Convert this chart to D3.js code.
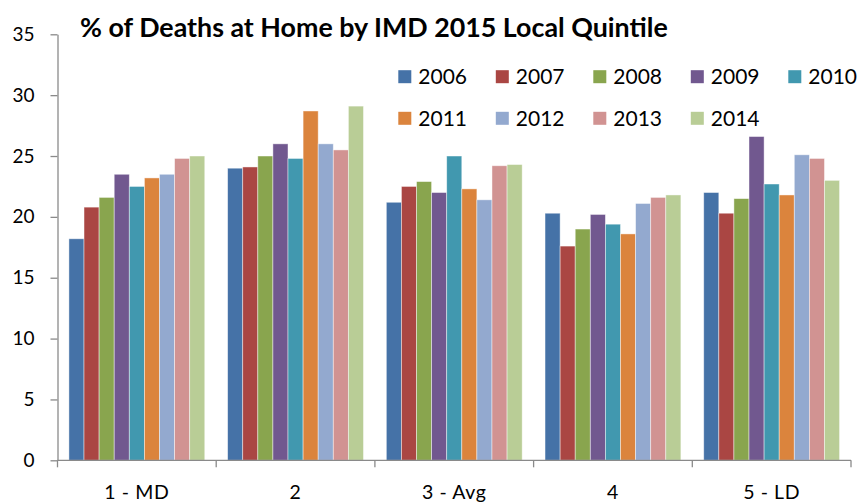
<!DOCTYPE html>
<html>
<head>
<meta charset="utf-8">
<script src="https://cdn.jsdelivr.net/npm/d3@7"></script>
<style>
  html, body { margin: 0; padding: 0; background: #fff; }
  svg { display: block; font-family: Lato, "Open Sans", sans-serif; }
</style>
</head>
<body>
<svg id="chart" width="859" height="502"></svg>
<script>
// Quintiles of the IMD 2015 local ranking
const categories = ["1 - MD", "2", "3 - Avg", "4", "5 - LD"];
const years = ["2006", "2007", "2008", "2009", "2010", "2011", "2012", "2013", "2014"];

// % of deaths at home, one array per year, in quintile order
const v2006 = [18.2, 24.0, 21.2, 20.3, 22.0];
const v2007 = [20.8, 24.1, 22.5, 17.6, 20.3];
const v2008 = [21.6, 25.0, 22.9, 19.0, 21.5];
const v2009 = [23.5, 26.0, 22.0, 20.2, 26.6];
const v2010 = [22.5, 24.8, 25.0, 19.4, 22.7];
const v2011 = [23.2, 28.7, 22.3, 18.6, 21.8];
const v2012 = [23.5, 26.0, 21.4, 21.1, 25.1];
const v2013 = [24.8, 25.5, 24.2, 21.6, 24.8];
const v2014 = [25.0, 29.1, 24.3, 21.8, 23.0];

const yTicks = [0, 5, 10, 15, 20, 25, 30, 35];
const colors = ["#4572A7", "#AA4643", "#89A54E", "#71588F", "#4198AF",
                "#DB843D", "#93A9CF", "#D19392", "#B9CD96"];

const seriesValues = [v2006, v2007, v2008, v2009, v2010, v2011, v2012, v2013, v2014];
const rows = categories.map((c, i) => ({
  category: c,
  values: years.map((yr, j) => ({ year: yr, value: seriesValues[j][i] }))
}));

const svg = d3.select("#chart");
const plot = { left: 57.5, right: 851, top: 34.3, bottom: 460.3 };

const x0 = d3.scaleBand().domain(categories).range([plot.left, plot.right]).padding(0);
const step = x0.bandwidth();
const x1 = d3.scaleBand().domain(years)
  .range([step * 0.072, step * 0.928]).padding(0);
const y = d3.scaleLinear().domain([0, 35]).range([plot.bottom, plot.top]);
const color = d3.scaleOrdinal().domain(years).range(colors);

// Bars
const groups = svg.append("g").selectAll("g").data(rows).join("g")
  .attr("transform", d => `translate(${x0(d.category)},0)`);
groups.selectAll("rect").data(d => d.values).join("rect")
  .attr("x", d => x1(d.year))
  .attr("y", d => y(d.value))
  .attr("width", x1.bandwidth())
  .attr("height", d => y(0) - y(d.value))
  .attr("fill", d => color(d.year))
  .attr("stroke", "rgba(255,255,255,0.55)")
  .attr("stroke-width", 0.8);

// Y axis
const axisColor = "#8a8a8a";
const yAxis = svg.append("g")
  .attr("transform", `translate(${plot.left},0)`)
  .call(d3.axisLeft(y).tickValues(yTicks).tickSize(7).tickPadding(16).tickSizeOuter(0));
yAxis.select(".domain").attr("stroke", axisColor).attr("stroke-width", 1.3);
yAxis.selectAll(".tick line").attr("stroke", axisColor).attr("stroke-width", 1.3);
yAxis.selectAll(".tick text")
  .attr("fill", "#000").attr("font-size", 19).attr("font-family", "Lato, sans-serif");

// X axis: baseline with ticks at the quintile boundaries
const xAxis = svg.append("g");
xAxis.append("line")
  .attr("x1", plot.left).attr("x2", plot.right)
  .attr("y1", y(0)).attr("y2", y(0))
  .attr("stroke", axisColor).attr("stroke-width", 1.3);
const boundaries = categories.map(c => x0(c)).concat([x0.range()[1]]);
xAxis.selectAll("line.bound").data(boundaries).join("line")
  .attr("class", "bound")
  .attr("x1", d => d).attr("x2", d => d)
  .attr("y1", y(0)).attr("y2", y(0) + 7)
  .attr("stroke", axisColor).attr("stroke-width", 1.3);
xAxis.selectAll("text").data(categories).join("text")
  .attr("x", d => x0(d) + step / 2)
  .attr("y", 498.5)
  .attr("text-anchor", "middle")
  .attr("font-size", 19.5)
  .attr("letter-spacing", 0.6)
  .attr("fill", "#000")
  .text(d => d);

// Title
const title = svg.append("text")
  .attr("x", 80).attr("y", 37)
  .attr("font-weight", "bold")
  .attr("font-size", 24)
  .attr("fill", "#000")
  .text("% of Deaths at Home by IMD 2015 Local Quintile");
const tw = title.node().getComputedTextLength();
title.attr("font-size", 24 * 588 / tw);

// Legend: two rows of five
const legend = svg.append("g");
const items = legend.selectAll("g").data(years).join("g")
  .attr("transform", (d, i) => `translate(${398.3 + (i % 5) * 97.5},${76.7 + Math.floor(i / 5) * 41.6})`);
items.append("rect")
  .attr("x", 0).attr("y", -6.5).attr("width", 13).attr("height", 13)
  .attr("fill", d => color(d));
items.append("text")
  .attr("x", 20).attr("y", 0).attr("dy", "0.36em")
  .attr("font-size", 21)
  .attr("fill", "#000")
  .text(d => d);
</script>
</body>
</html>
